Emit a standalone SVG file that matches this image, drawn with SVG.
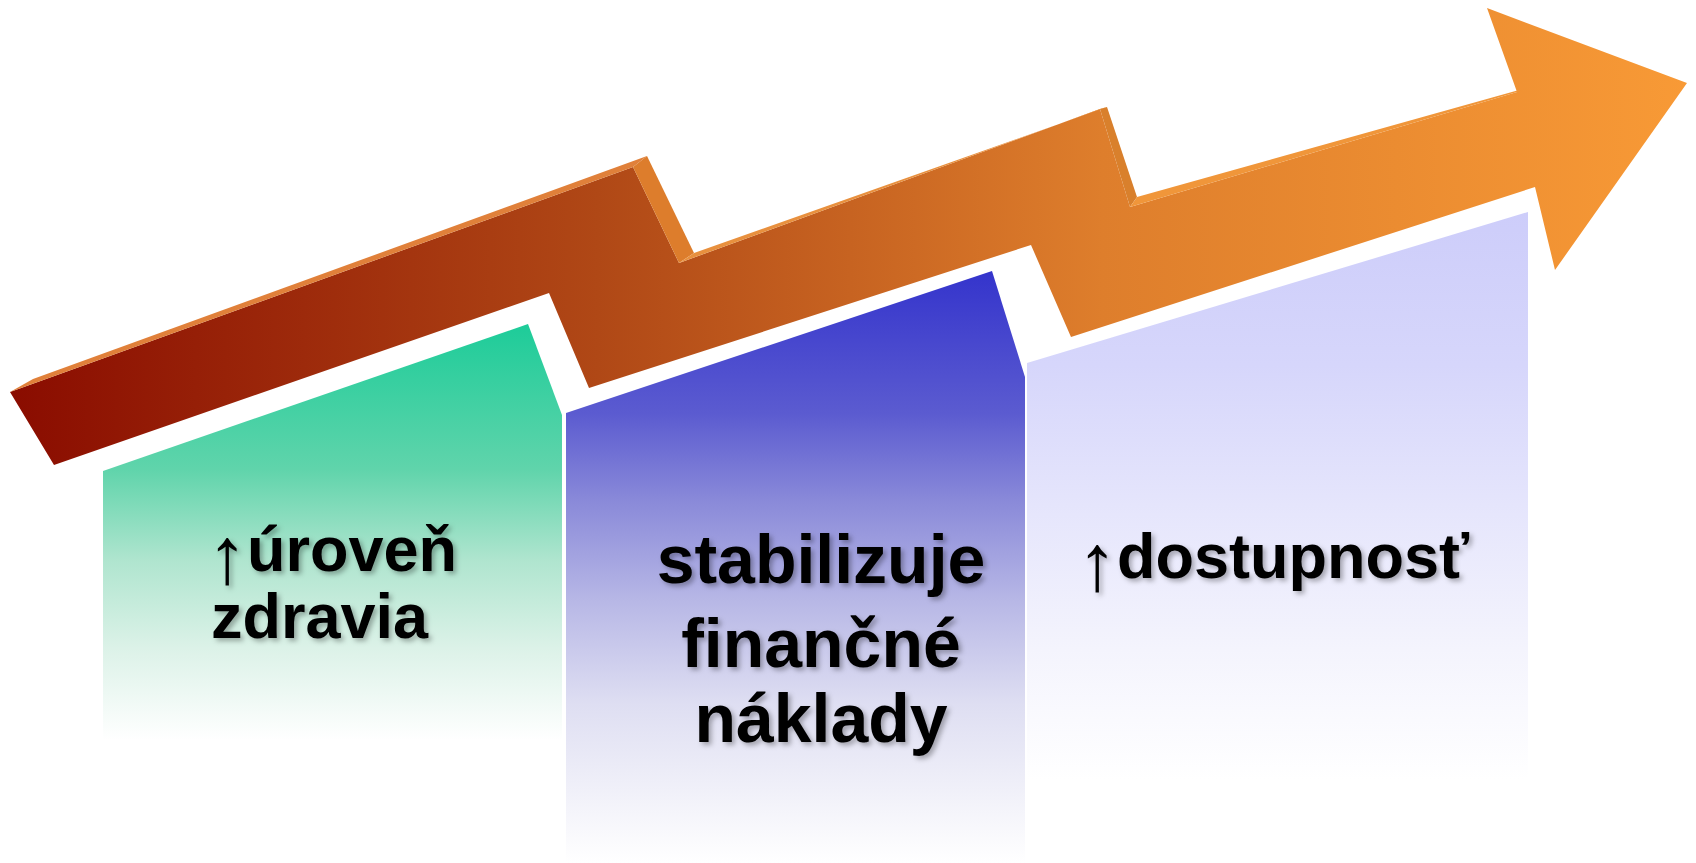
<svg xmlns="http://www.w3.org/2000/svg" width="1696" height="863" viewBox="0 0 1696 863">
<defs>
<style>
.lbl{font-family:"Liberation Sans",Arial,sans-serif;font-weight:bold;fill:#000;filter:url(#shadow)}
.ar{font-weight:normal;font-size:80px}
</style>
<filter id="shadow" x="-10%" y="-20%" width="130%" height="150%">
<feDropShadow dx="3" dy="3" stdDeviation="2.5" flood-color="#000" flood-opacity="0.3"/>
</filter>
<linearGradient id="gArrow" gradientUnits="userSpaceOnUse" x1="10" y1="0" x2="1690" y2="0">
<stop offset="0" stop-color="#8a0c00"/>
<stop offset="0.35" stop-color="#b04816"/>
<stop offset="0.65" stop-color="#de7e2c"/>
<stop offset="1" stop-color="#f89a36"/>
</linearGradient>
<linearGradient id="gGreen" gradientUnits="userSpaceOnUse" x1="0" y1="324" x2="0" y2="740">
<stop offset="0" stop-color="#1dcc99"/>
<stop offset="0.35" stop-color="#60d4ab"/>
<stop offset="0.57" stop-color="#b0e5cf"/>
<stop offset="0.78" stop-color="#dcf2e8"/>
<stop offset="1" stop-color="#ffffff"/>
</linearGradient>
<linearGradient id="gBlue" gradientUnits="userSpaceOnUse" x1="0" y1="271" x2="0" y2="863">
<stop offset="0" stop-color="#3434cc"/>
<stop offset="0.24" stop-color="#5b5bd0"/>
<stop offset="0.39" stop-color="#8a8ad9"/>
<stop offset="0.56" stop-color="#b8b8e6"/>
<stop offset="0.73" stop-color="#dedef2"/>
<stop offset="0.9" stop-color="#f3f3fa"/>
<stop offset="1" stop-color="#ffffff"/>
</linearGradient>
<linearGradient id="gLav" gradientUnits="userSpaceOnUse" x1="0" y1="212" x2="0" y2="780">
<stop offset="0" stop-color="#cdcdfa"/>
<stop offset="0.27" stop-color="#d6d6fb"/>
<stop offset="0.5" stop-color="#e4e4fc"/>
<stop offset="0.77" stop-color="#f4f4fd"/>
<stop offset="1" stop-color="#ffffff"/>
</linearGradient>
</defs>
<rect width="1696" height="863" fill="#ffffff"/>

<g id="arrow">
<polygon fill="url(#gArrow)" points="10,392 633,167 679,263 1100,109 1130,207 1517,92 1487,8 1687,83 1555,270 1535,187 1071,337 1031,245 589,388 549,293 54,465"/>
<polygon fill="#e0803a" points="10,392 33,379 647,156 633,167"/>
<polygon fill="#dd7d2c" points="633,167 647,156 694,253 679,263"/>
<polygon fill="#e8903e" points="679,263 694,253 1107,107 1100,109"/>
<polygon fill="#d9802c" points="1100,109 1107,107 1137,197 1130,207"/>
<polygon fill="#f0963a" points="1130,207 1137,197 1519,90 1517,92"/>
</g>

<g id="node-zdravie">
<polygon fill="url(#gGreen)" points="103,471 528,324 562,415 562,740 103,740"/>
<text class="lbl" font-size="63"><tspan x="207" y="583" class="ar">↑</tspan><tspan dy="-12">úroveň</tspan><tspan x="211" y="638">zdravia</tspan></text>
</g>

<g id="node-naklady">
<polygon fill="url(#gBlue)" points="566,413 992,271 1025,377 1025,863 566,863"/>
<text class="lbl" font-size="68" text-anchor="middle"><tspan x="821" y="583">stabilizuje</tspan><tspan x="821" y="667">finančné</tspan><tspan x="821" y="742">náklady</tspan></text>
</g>

<g id="node-dostupnost">
<polygon fill="url(#gLav)" points="1027,363 1528,212 1528,780 1027,780"/>
<text class="lbl" font-size="63"><tspan x="1077" y="590" class="ar">↑</tspan><tspan dy="-12">dostupnosť</tspan></text>
</g>

<g id="connectors"/>
</svg>
